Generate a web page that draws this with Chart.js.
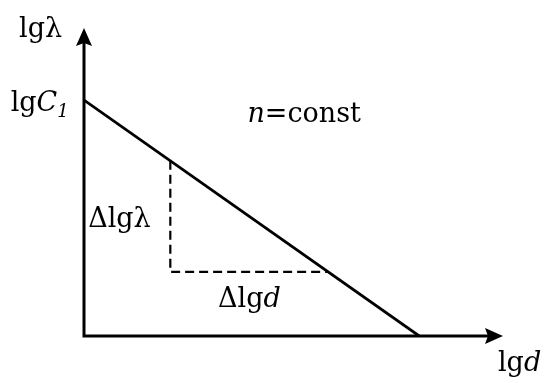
<!DOCTYPE html>
<html>
<head>
<meta charset="utf-8">
<script src="https://cdn.jsdelivr.net/npm/chart.js@4"></script>
<style>
  html, body { margin: 0; padding: 0; background: #fff; }
  canvas { display: block; }
</style>
</head>
<body>
<canvas id="c" width="549" height="383"></canvas>
<script>
// Straight-line relation lgλ = lgC1 − n·lgd (arbitrary units)
const lineX = [0, 8.0];
const lineY = [7.66, 0];

// Slope triangle under the line
const triX = [2.06, 2.06, 5.83];
const triY = [5.69, 2.08, 2.08];

// Axis extents
const xMax = 10;
const yMax = 10;

const SERIF = '"DejaVu Serif", "Liberation Serif", serif';
const FS = 27;

// Text pieces: [text, italic, subscript]
const labels = [
  { x: -1.55, y: 9.72, parts: [['lg', 0, 0], ['λ', 0, 0]] },
  { x: -1.75, y: 7.3, parts: [['lg', 0, 0], ['C', 1, 0], ['1', 1, 1]] },
  { x: 3.9, y: 6.95, parts: [['n', 1, 0], ['=const', 0, 0]] },
  { x: 0.1, y: 3.55, parts: [['Δlgλ', 0, 0]] },
  { x: 3.2, y: 0.95, parts: [['Δlg', 0, 0], ['d', 1, 0]] },
  { x: 9.88, y: -1.14, parts: [['lg', 0, 0], ['d', 1, 0]] }
];

const axesPlugin = {
  id: 'arrowAxes',
  afterDatasetsDraw(chart) {
    const { ctx, scales: { x, y } } = chart;
    const ox = x.getPixelForValue(0), oy = y.getPixelForValue(0);
    const ex = x.getPixelForValue(xMax), ey = y.getPixelForValue(yMax);
    ctx.save();
    ctx.strokeStyle = '#000';
    ctx.fillStyle = '#000';
    ctx.lineWidth = 3;
    ctx.beginPath();
    ctx.moveTo(ox - 1.5, oy);
    ctx.lineTo(ex - 12, oy);
    ctx.moveTo(ox, oy + 1.5);
    ctx.lineTo(ox, ey + 12);
    ctx.stroke();
    // arrow heads with a slightly hollowed base
    const L = 18, W = 8, N = 3;
    ctx.beginPath();
    ctx.moveTo(ex, oy);
    ctx.lineTo(ex - L, oy - W);
    ctx.lineTo(ex - L + N, oy);
    ctx.lineTo(ex - L, oy + W);
    ctx.closePath();
    ctx.fill();
    ctx.beginPath();
    ctx.moveTo(ox, ey);
    ctx.lineTo(ox - W, ey + L);
    ctx.lineTo(ox, ey + L - N);
    ctx.lineTo(ox + W, ey + L);
    ctx.closePath();
    ctx.fill();

    // labels
    ctx.textBaseline = 'alphabetic';
    ctx.textAlign = 'left';
    for (const lb of labels) {
      let px = x.getPixelForValue(lb.x);
      const py = y.getPixelForValue(lb.y);
      for (const [t, it, sub] of lb.parts) {
        const size = sub ? Math.round(FS * 0.68) : FS;
        ctx.font = (it ? 'italic ' : '') + size + 'px ' + SERIF;
        ctx.fillText(t, px, py + (sub ? 6 : 0));
        px += ctx.measureText(t).width;
      }
    }
    ctx.restore();
  }
};

new Chart(document.getElementById('c'), {
  type: 'scatter',
  data: {
    datasets: [
      {
        data: lineX.map((v, i) => ({ x: v, y: lineY[i] })),
        showLine: true,
        borderColor: '#000',
        borderWidth: 2.8,
        pointRadius: 0
      },
      {
        data: triX.map((v, i) => ({ x: v, y: triY[i] })),
        showLine: true,
        borderColor: '#000',
        borderWidth: 2.2,
        borderDash: [9, 5],
        pointRadius: 0
      }
    ]
  },
  options: {
    responsive: false,
    animation: false,
    events: [],
    layout: { padding: { left: 84, right: 46, top: 28, bottom: 47 } },
    plugins: { legend: { display: false }, tooltip: { enabled: false } },
    scales: {
      x: { type: 'linear', min: 0, max: xMax, display: false },
      y: { type: 'linear', min: 0, max: yMax, display: false }
    }
  },
  plugins: [axesPlugin]
});
</script>
</body>
</html>
